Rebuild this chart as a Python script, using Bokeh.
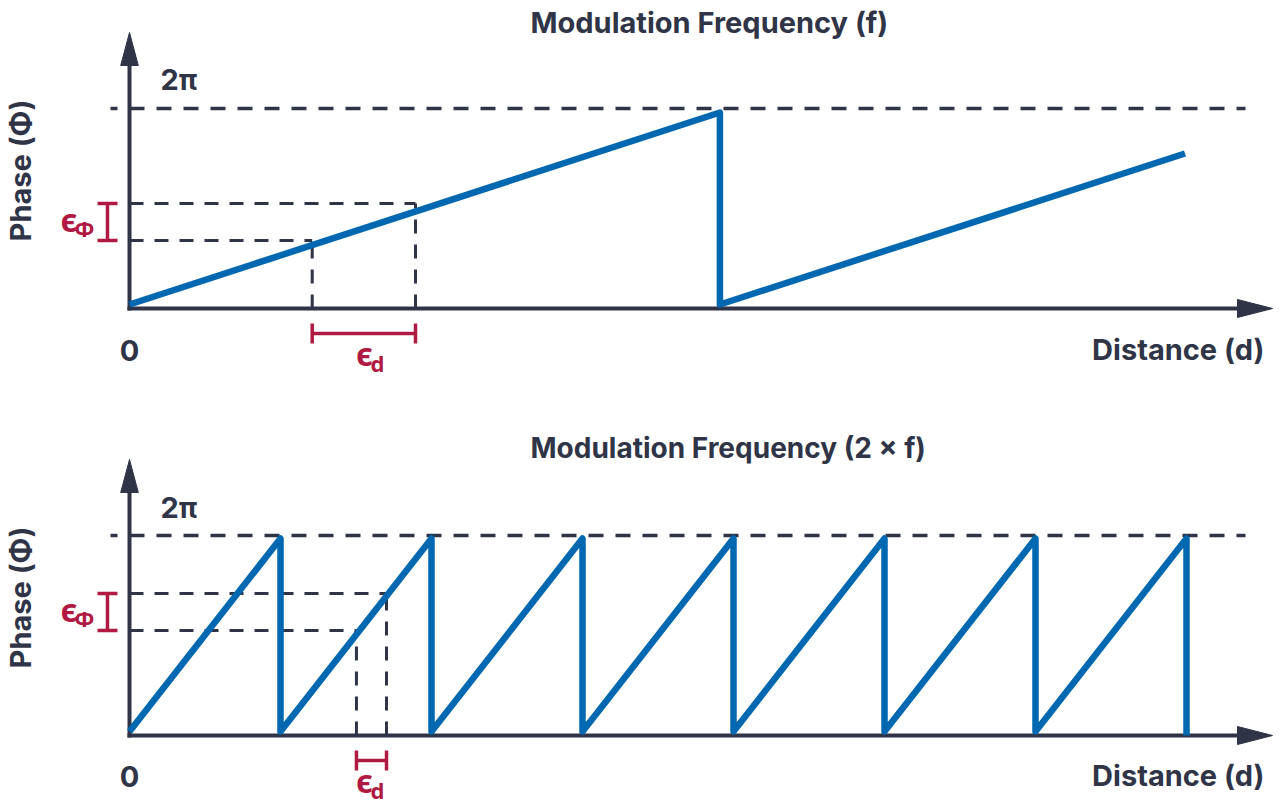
from bokeh.plotting import figure
from bokeh.models import Range1d
from bokeh.core.properties import value
from bokeh.embed import file_html
from bokeh.resources import INLINE

# ---------------- data ----------------
TITLES = ["Modulation Frequency (f)", "Modulation Frequency (2 × f)"]
X_LABEL = "Distance (d)"
Y_LABEL = "Phase (Φ)"
Y_TICK = "2π"
X_TICK = "0"
EPS = "ϵ"
EPS_PHI_SUB = "Φ"
EPS_D_SUB = "d"

# distance in units of one period of the 2×f ramp, phase as fraction of 2π
top_distance = [0.0, 3.91, 3.91, 6.99]
top_phase = [0.02, 0.98, 0.02, 0.775]

bot_distance = [0, 1, 1, 2, 2, 3, 3, 4, 4, 5, 5, 6, 6, 7, 7]
bot_phase = [0.02, 0.985, 0.02, 0.985, 0.02, 0.985, 0.02, 0.985,
             0.02, 0.985, 0.02, 0.985, 0.02, 0.985, 0.0]

top_eps_phase = [0.34, 0.525]
top_eps_distance = [1.21, 1.894]
bot_eps_phase = [0.525, 0.71]
bot_eps_distance = [1.503, 1.702]

TWO_PI_LEVEL = 1.0

# ---------------- styling / layout ----------------
DARK = "#2f3447"
BLUE = "#0067b1"
RED = "#b01a42"
FONT = "Inter"
EFONT = "Noto Sans"

W, H = 1280, 806
X0 = 129        # screen x of distance 0
PXD = 151       # pixels per distance unit
PXP = 200       # pixels per 2π of phase
Y0 = {"default": 308, "bot": 735}


def dx(sx):
    return (sx - X0) / PXD


def py(sy, rn):
    return (Y0[rn] - sy) / PXP


p = figure(width=W, height=H,
           x_range=Range1d(dx(0), dx(W)),
           y_range=Range1d(py(H, "default"), py(0, "default")),
           output_backend="svg", toolbar_location=None,
           x_axis_type=None, y_axis_type=None, min_border=0,
           outline_line_color=None, background_fill_color="white",
           border_fill_color="white")
p.extra_y_ranges = {"bot": Range1d(py(H, "bot"), py(0, "bot"))}

panels = [
    dict(rn="default", d=top_distance, ph=top_phase, ed=top_eps_distance,
         ep=top_eps_phase, title=TITLES[0], title_y=22, title_size="29px",
         tick_y=79, zero_y=350, xl_y=349, yl_y=170),
    dict(rn="bot", d=bot_distance, ph=bot_phase, ed=bot_eps_distance,
         ep=bot_eps_phase, title=TITLES[1], title_y=447, title_size="28px",
         tick_y=507, zero_y=776, xl_y=775, yl_y=597),
]

DASH = "15 12"

for pn in panels:
    rn = pn["rn"]
    oy = Y0[rn]

    def yy(rel):  # rel = pixels above the panel origin
        return py(oy - rel, rn)

    # 2π dashed reference
    p.line([dx(110), dx(1245)], [TWO_PI_LEVEL, TWO_PI_LEVEL], y_range_name=rn,
           line_color=DARK, line_width=3.5, line_dash=DASH, line_dash_offset=8)

    # epsilon guide lines
    p.segment(x0=[0, 0], y0=pn["ep"], x1=pn["ed"], y1=pn["ep"], y_range_name=rn,
              line_color=DARK, line_width=3, line_dash="14 11")
    p.segment(x0=pn["ed"], y0=[0, 0], x1=pn["ed"], y1=pn["ep"], y_range_name=rn,
              line_color=DARK, line_width=3, line_dash="14 11")

    # axes
    p.line([dx(127), dx(1240)], [0, 0], y_range_name=rn, line_color=DARK, line_width=4)
    p.line([0, 0], [yy(-2), yy(243)], y_range_name=rn, line_color=DARK, line_width=4)
    p.patch([dx(1237), dx(1237), dx(1272)], [yy(9), yy(-9), 0], y_range_name=rn,
            fill_color=DARK, line_color=DARK, line_width=1)
    p.patch([dx(X0 - 8.8), dx(X0 + 8.8), 0], [yy(243), yy(243), yy(276)], y_range_name=rn,
            fill_color=DARK, line_color=DARK, line_width=1)

    # sawtooth
    p.line(pn["d"], pn["ph"], y_range_name=rn, line_color=BLUE, line_width=6.5,
           line_join="round", line_cap="butt")

    # epsilon brackets (red)
    ex = dx(107)
    p.segment(x0=[ex], y0=[pn["ep"][0]], x1=[ex], y1=[pn["ep"][1]], y_range_name=rn,
              line_color=RED, line_width=3.5)
    p.segment(x0=[dx(97), dx(97)], y0=pn["ep"], x1=[dx(117), dx(117)], y1=pn["ep"],
              y_range_name=rn, line_color=RED, line_width=3.5)
    p.segment(x0=[pn["ed"][0]], y0=[yy(-25)], x1=[pn["ed"][1]], y1=[yy(-25)],
              y_range_name=rn, line_color=RED, line_width=3.5)
    p.segment(x0=pn["ed"], y0=[yy(-15), yy(-15)], x1=pn["ed"], y1=[yy(-35), yy(-35)],
              y_range_name=rn, line_color=RED, line_width=3.5)

    # texts
    common = dict(y_range_name=rn, text_font=value(FONT), text_font_style="bold",
                  text_color=DARK, text_baseline="middle")
    p.text(x=[dx(530)], y=[py(pn["title_y"], rn)], text=[pn["title"]],
           text_font_size=pn["title_size"], text_align="left", **common)
    p.text(x=[dx(160)], y=[py(pn["tick_y"], rn)], text=[Y_TICK], text_font_size="29px",
           text_align="left", **common)
    p.text(x=[0], y=[py(pn["zero_y"], rn)], text=[X_TICK], text_font_size="29px",
           text_align="center", **common)
    p.text(x=[dx(1264)], y=[py(pn["xl_y"], rn)], text=[X_LABEL], text_font_size="29px",
           text_align="right", **common)
    p.text(x=[dx(20)], y=[py(pn["yl_y"], rn)], text=[Y_LABEL],
           text_font_size="29px", text_align="center", angle=1.5707963, **common)

    # epsilon labels
    ecommon = dict(y_range_name=rn, text_font=value(EFONT), text_font_style="bold",
                   text_color=RED, text_baseline="middle", text_align="center")
    phi_mid = (pn["ep"][0] + pn["ep"][1]) / 2
    p.text(x=[dx(68.5)], y=[phi_mid + 3 / PXP], text=[EPS], text_font_size="32px", **ecommon)
    p.text(x=[dx(84)], y=[phi_mid - 5.5 / PXP], text=[EPS_PHI_SUB], text_font_size="22px",
           **ecommon)
    p.text(x=[dx(364)], y=[yy(-45)], text=[EPS], text_font_size="32px", **ecommon)
    p.text(x=[dx(377)], y=[yy(-54)], text=[EPS_D_SUB], text_font_size="22px", **ecommon)

open("out.html", "w").write(file_html(p, INLINE))
